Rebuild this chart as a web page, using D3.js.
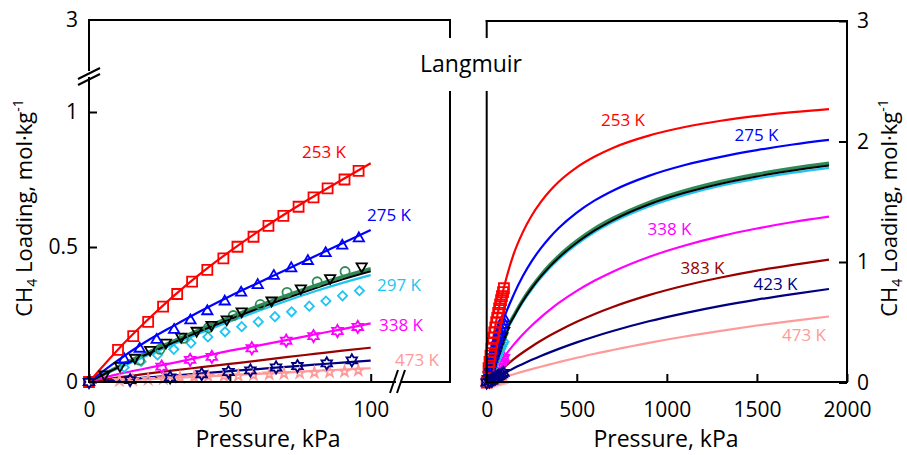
<!DOCTYPE html>
<html>
<head>
<meta charset="utf-8">
<script src="https://cdn.jsdelivr.net/npm/d3@7"></script>
<style>
  html, body { margin: 0; padding: 0; background: #fff; }
  svg { display: block; }
</style>
</head>
<body>
<script>
// ---------------- DATA ----------------
// Experimental points (Pressure kPa, Loading mol/kg)
const sq253P = [0, 10.3, 15.7, 21, 26.3, 31.3, 36.6, 42, 47.7, 52.7, 58.4, 63.7, 69, 74.4, 79.7, 84.7, 90.7, 95.7];
const sq253Q = [0, 0.119, 0.170, 0.223, 0.279, 0.326, 0.372, 0.415, 0.458, 0.501, 0.538, 0.578, 0.615, 0.649, 0.684, 0.717, 0.750, 0.782];
const tri275P = [12.5, 18, 24, 30.2, 36, 42, 48.2, 54, 59.9, 65.6, 71.8, 77.7, 84, 89.9, 95.8];
const tri275Q = [0.084, 0.123, 0.156, 0.193, 0.228, 0.262, 0.298, 0.331, 0.359, 0.393, 0.421, 0.448, 0.477, 0.505, 0.532];
const inv297P = [5.5, 11, 16.3, 21.7, 27.3, 32.7, 38.2, 43.5, 48.9, 54.2, 64.8, 75.2, 85.6, 96.8];
const inv297Q = [0.028, 0.06, 0.09, 0.119, 0.146, 0.168, 0.19, 0.212, 0.232, 0.262, 0.302, 0.347, 0.385, 0.428];
const cir297P = [17.9, 25.2, 33.5, 42.4, 51.2, 60.8, 70.3, 81, 90.9];
const cir297Q = [0.081, 0.121, 0.162, 0.201, 0.246, 0.287, 0.332, 0.371, 0.409];
const dia297P = [12.5, 18.5, 24.3, 30.1, 36.2, 42.2, 48.3, 54.2, 60.1, 66, 71.9, 78.2, 84.1, 90, 96];
const dia297Q = [0.054, 0.076, 0.1, 0.121, 0.144, 0.167, 0.186, 0.205, 0.223, 0.242, 0.26, 0.281, 0.3, 0.319, 0.338];
const hex338P = [25.8, 35.9, 43.6, 57.8, 70, 79.7, 88.2, 95.4];
const hex338Q = [0.057, 0.082, 0.093, 0.125, 0.153, 0.17, 0.189, 0.204];
const hex423P = [0, 14.6, 28.8, 40, 49.5, 57.3, 66.4, 74, 84.4, 93.3];
const hex423Q = [0, 0.007, 0.017, 0.029, 0.037, 0.043, 0.054, 0.059, 0.069, 0.08];
const star473P = [10.8, 15.5, 21, 26.4, 32.3, 37.3, 42.3, 47.9, 53, 58.4, 64, 69.2, 74.8, 80, 85.4, 90.7, 95.6];
const star473Q = [0.005, 0.007, 0.009, 0.012, 0.016, 0.019, 0.021, 0.022, 0.023, 0.026, 0.029, 0.031, 0.033, 0.035, 0.037, 0.039, 0.043];

// Fitted lines, low-pressure panel
const lineP = [0, 10, 20, 30, 40, 50, 60, 70, 80, 90, 100];
const line253 = [0, 0.117, 0.222, 0.318, 0.405, 0.484, 0.557, 0.625, 0.689, 0.750, 0.81];
const line275 = [0, 0.078, 0.148, 0.208, 0.265, 0.318, 0.367, 0.416, 0.465, 0.514, 0.563];
const line297g = [0, 0.055, 0.105, 0.152, 0.197, 0.24, 0.281, 0.32, 0.356, 0.39, 0.42];
const line297k = [0, 0.052, 0.1, 0.146, 0.19, 0.232, 0.272, 0.31, 0.346, 0.38, 0.41];
const line297c = [0, 0.049, 0.095, 0.14, 0.183, 0.224, 0.263, 0.3, 0.335, 0.367, 0.396];
const line338 = [0, 0.028, 0.05, 0.071, 0.093, 0.116, 0.135, 0.155, 0.176, 0.196, 0.217];
const line383 = [0, 0.016, 0.03, 0.043, 0.055, 0.067, 0.079, 0.092, 0.104, 0.116, 0.127];
const line423 = [0, 0.008, 0.016, 0.024, 0.032, 0.04, 0.048, 0.056, 0.064, 0.072, 0.079];
const line473 = [0, 0.005, 0.01, 0.015, 0.02, 0.025, 0.03, 0.035, 0.041, 0.046, 0.051];

// Fitted curves, high-pressure panel
const curveP = [0, 50, 100, 150, 200, 250, 300, 350, 400, 500, 600, 700, 900, 1100, 1300, 1500, 1700, 1900];
const curve253 = [0, 0.49, 0.815, 1.067, 1.246, 1.386, 1.497, 1.589, 1.666, 1.786, 1.876, 1.947, 2.049, 2.12, 2.172, 2.212, 2.244, 2.269];
const curve275 = [0, 0.312, 0.55, 0.729, 0.881, 1.007, 1.113, 1.204, 1.282, 1.41, 1.511, 1.592, 1.715, 1.805, 1.873, 1.928, 1.975, 2.013];
const curve297g = [0, 0.248, 0.42, 0.555, 0.684, 0.794, 0.89, 0.975, 1.05, 1.175, 1.278, 1.362, 1.494, 1.592, 1.669, 1.729, 1.779, 1.82];
const curve297k = [0, 0.242, 0.408, 0.546, 0.674, 0.783, 0.878, 0.962, 1.036, 1.16, 1.262, 1.346, 1.477, 1.574, 1.65, 1.71, 1.759, 1.80];
const curve297c = [0, 0.232, 0.396, 0.538, 0.664, 0.772, 0.866, 0.95, 1.023, 1.146, 1.248, 1.331, 1.461, 1.557, 1.633, 1.692, 1.741, 1.782];
const curve338 = [0, 0.117, 0.22, 0.314, 0.398, 0.473, 0.541, 0.603, 0.66, 0.76, 0.846, 0.92, 1.042, 1.137, 1.215, 1.278, 1.332, 1.377];
const curve383 = [0, 0.067, 0.13, 0.194, 0.249, 0.299, 0.346, 0.39, 0.43, 0.504, 0.569, 0.627, 0.725, 0.805, 0.871, 0.928, 0.976, 1.019];
const curve423 = [0, 0.04, 0.079, 0.119, 0.154, 0.188, 0.22, 0.25, 0.279, 0.333, 0.382, 0.427, 0.508, 0.576, 0.636, 0.688, 0.734, 0.776];
const curve473 = [0, 0.025, 0.049, 0.069, 0.09, 0.111, 0.131, 0.15, 0.169, 0.205, 0.239, 0.27, 0.329, 0.382, 0.429, 0.473, 0.512, 0.548];

// Tick labels / texts
const leftXTicks = [0, 50, 100];
const leftYTicks = [0, 0.5, 1];
const leftYTopTicks = [3];
const rightXTicks = [0, 500, 1000, 1500, 2000];
const rightYTicks = [0, 1, 2, 3];
const leftLabelTexts = ["253 K", "275 K", "297 K", "338 K", "473 K"];
const rightLabelTexts = ["253 K", "275 K", "338 K", "383 K", "423 K", "473 K"];

// ---------------- STYLE ----------------
const C = {
  r: "#ff0000", b: "#0000ff", g: "#2e8b57", k: "#000000", c: "#1ec4f2",
  m: "#ff00ff", dr: "#990000", n: "#000080", p: "#ff9a9a"
};
const FONT = "'Open Sans', 'Noto Sans', sans-serif";

const W = 907, H = 455;
const svg = d3.select("body").append("svg").attr("width", W).attr("height", H)
  .style("font-family", FONT);
svg.append("rect").attr("width", W).attr("height", H).attr("fill", "#fff");

// Scales
const xL = d3.scaleLinear().domain([0, 100]).range([89, 370.7]);
const yL = d3.scaleLinear().domain([0, 1]).range([382, 112]);
const yLTop = d3.scaleLinear().domain([2, 3]).range([120, 20]);
const xR = d3.scaleLinear().domain([0, 2000]).range([486.7, 847]);
const yR = d3.scaleLinear().domain([0, 3]).range([382.5, 21]);

// Custom hexagram symbol
const symbolHexagram = {
  draw(ctx, size) {
    const R = Math.sqrt(size) / 2, r = R / Math.sqrt(3);
    for (let i = 0; i < 12; i++) {
      const a = -Math.PI / 2 + i * Math.PI / 6;
      const rad = i % 2 ? r : R;
      const x = rad * Math.cos(a), y = rad * Math.sin(a);
      if (i === 0) ctx.moveTo(x, y); else ctx.lineTo(x, y);
    }
    ctx.closePath();
  }
};

function zipPts(P, Q) { return P.map((p, i) => [p, Q[i]]); }

const lineSeries = [
  { Q: line473, R: curve473, color: C.p, w: 2.2 },
  { Q: line423, R: curve423, color: C.n, w: 2.2 },
  { Q: line383, R: curve383, color: C.dr, w: 2.2 },
  { Q: line338, R: curve338, color: C.m, w: 2.2 },
  { Q: line297c, R: curve297c, color: C.c, w: 2.2 },
  { Q: line297g, R: curve297g, color: C.g, w: 3.4 },
  { Q: line297k, R: curve297k, color: C.k, w: 2.0 },
  { Q: line275, R: curve275, color: C.b, w: 2.2 },
  { Q: line253, R: curve253, color: C.r, w: 2.2 }
];

const markerSeries = [
  { P: star473P, Q: star473Q, color: C.p, type: d3.symbolStar, size: 32, rot: 0 },
  { P: hex338P, Q: hex338Q, color: C.m, type: symbolHexagram, size: 150, rot: 0 },
  { P: dia297P, Q: dia297Q, color: C.c, type: d3.symbolSquare, size: 42, rot: 45 },
  { P: cir297P, Q: cir297Q, color: C.g, type: d3.symbolCircle, size: 66, rot: 0 },
  { P: inv297P, Q: inv297Q, color: C.k, type: d3.symbolTriangle, size: 46, rot: 180 },
  { P: tri275P, Q: tri275Q, color: C.b, type: d3.symbolTriangle, size: 46, rot: 0 },
  { P: sq253P, Q: sq253Q, color: C.r, type: d3.symbolSquare, size: 100, rot: 0 },
  { P: hex423P, Q: hex423Q, color: C.n, type: symbolHexagram, size: 150, rot: 0 }
];

function drawPanel(g, xs, ys, curveKey, xDomainP) {
  const line = d3.line().x(d => xs(d[0])).y(d => ys(d[1])).curve(d3.curveMonotoneX);
  lineSeries.forEach(s => {
    const pts = zipPts(xDomainP, s[curveKey]);
    g.append("path").attr("d", line(pts)).attr("fill", "none")
      .attr("stroke", s.color).attr("stroke-width", s.w).attr("stroke-linejoin", "round");
  });
  markerSeries.forEach(s => {
    const sym = d3.symbol().type(s.type).size(s.size);
    g.append("g").selectAll("path").data(zipPts(s.P, s.Q)).join("path")
      .attr("d", sym)
      .attr("transform", d => `translate(${xs(d[0])},${ys(d[1])}) rotate(${s.rot})`)
      .attr("fill", "none").attr("stroke", s.color).attr("stroke-width", 1.8);
  });
}

drawPanel(svg.append("g"), xL, yL, "Q", lineP);
drawPanel(svg.append("g"), xR, yR, "R", curveP);

// ---------------- AXES ----------------
function styleAxis(g) {
  g.select(".domain").remove();
  g.selectAll(".tick line").attr("stroke", "#000").attr("stroke-width", 2);
  g.selectAll(".tick text").attr("fill", "#000").style("font-size", "21px").style("font-family", FONT);
}

svg.append("g").attr("transform", "translate(0,382)")
  .call(d3.axisBottom(xL).tickValues(leftXTicks).tickSize(-8).tickPadding(20).tickFormat(d3.format("d")))
  .call(styleAxis);
svg.append("g").attr("transform", "translate(89,0)")
  .call(d3.axisLeft(yL).tickValues(leftYTicks).tickSize(-8).tickPadding(11).tickFormat(d => String(d)))
  .call(styleAxis);
svg.append("g").attr("transform", "translate(89,0)")
  .call(d3.axisLeft(yLTop).tickValues(leftYTopTicks).tickSize(0).tickPadding(11).tickFormat(d => String(d)))
  .call(styleAxis);
svg.append("g").attr("transform", "translate(0,382)")
  .call(d3.axisBottom(xR).tickValues(rightXTicks).tickSize(-8).tickPadding(20).tickFormat(d3.format("d")))
  .call(styleAxis);
svg.append("g").attr("transform", "translate(847,0)")
  .call(d3.axisRight(yR).tickValues(rightYTicks).tickSize(-8).tickPadding(10).tickFormat(d3.format("d")))
  .call(styleAxis);

// Frames
const frame = svg.append("g").attr("stroke", "#000").attr("stroke-width", 2).attr("fill", "none")
  .attr("stroke-linecap", "square");
const segs = [
  // left panel
  [89, 382, 89, 78], [89, 70, 89, 20], [89, 20, 450, 20], [450, 20, 450, 37], [450, 92, 450, 382],
  [89, 382, 395, 382], [402, 382, 450, 382],
  // right panel
  [486.7, 21, 486.7, 37], [486.7, 92, 486.7, 382], [486.7, 21, 847, 21], [847, 21, 847, 382],
  [486.7, 382, 847, 382]
];
segs.forEach(s => frame.append("line").attr("x1", s[0]).attr("y1", s[1]).attr("x2", s[2]).attr("y2", s[3]));
// break marks
const brk = svg.append("g").attr("stroke", "#000").attr("stroke-width", 2);
brk.append("line").attr("x1", 78).attr("y1", 79).attr("x2", 100).attr("y2", 68);
brk.append("line").attr("x1", 78).attr("y1", 85).attr("x2", 100).attr("y2", 74);
brk.append("line").attr("x1", 390).attr("y1", 393).attr("x2", 398).attr("y2", 370);
brk.append("line").attr("x1", 397).attr("y1", 393).attr("x2", 405).attr("y2", 370);

// Langmuir label
svg.append("text").attr("x", 471).attr("y", 72).attr("text-anchor", "middle")
  .style("font-size", "23px").text("Langmuir");

// Axis titles
svg.append("text").attr("x", 268).attr("y", 447).attr("text-anchor", "middle")
  .style("font-size", "23px").text("Pressure, kPa");
svg.append("text").attr("x", 666).attr("y", 447).attr("text-anchor", "middle")
  .style("font-size", "23px").text("Pressure, kPa");

function yTitle(x) {
  const t = svg.append("text").attr("transform", `translate(${x},208) rotate(-90)`)
    .attr("text-anchor", "middle").style("font-size", "22px");
  t.append("tspan").text("CH");
  t.append("tspan").attr("dy", 5).style("font-size", "14px").text("4");
  t.append("tspan").attr("dy", -5).text(" Loading, mol·kg");
  t.append("tspan").attr("dy", -9).style("font-size", "14px").text("-1");
}
yTitle(32);
yTitle(897);

// Curve labels
const leftLabelColors = [C.r, C.b, C.c, C.m, C.p];
const leftLabelPos = [[324, 158], [389, 221], [399, 291], [401, 331], [417, 366]];
leftLabelTexts.forEach((t, i) => svg.append("text").attr("x", leftLabelPos[i][0]).attr("y", leftLabelPos[i][1])
  .attr("text-anchor", "middle").attr("fill", leftLabelColors[i]).style("font-size", "17px").text(t));
const rightLabelColors = [C.r, C.b, C.m, C.dr, C.n, C.p];
const rightLabelPos = [[623, 126], [756.5, 141], [669.5, 235], [702.5, 274], [775.5, 290], [804, 341]];
rightLabelTexts.forEach((t, i) => svg.append("text").attr("x", rightLabelPos[i][0]).attr("y", rightLabelPos[i][1])
  .attr("text-anchor", "middle").attr("fill", rightLabelColors[i]).style("font-size", "17px").text(t));
</script>
</body>
</html>
